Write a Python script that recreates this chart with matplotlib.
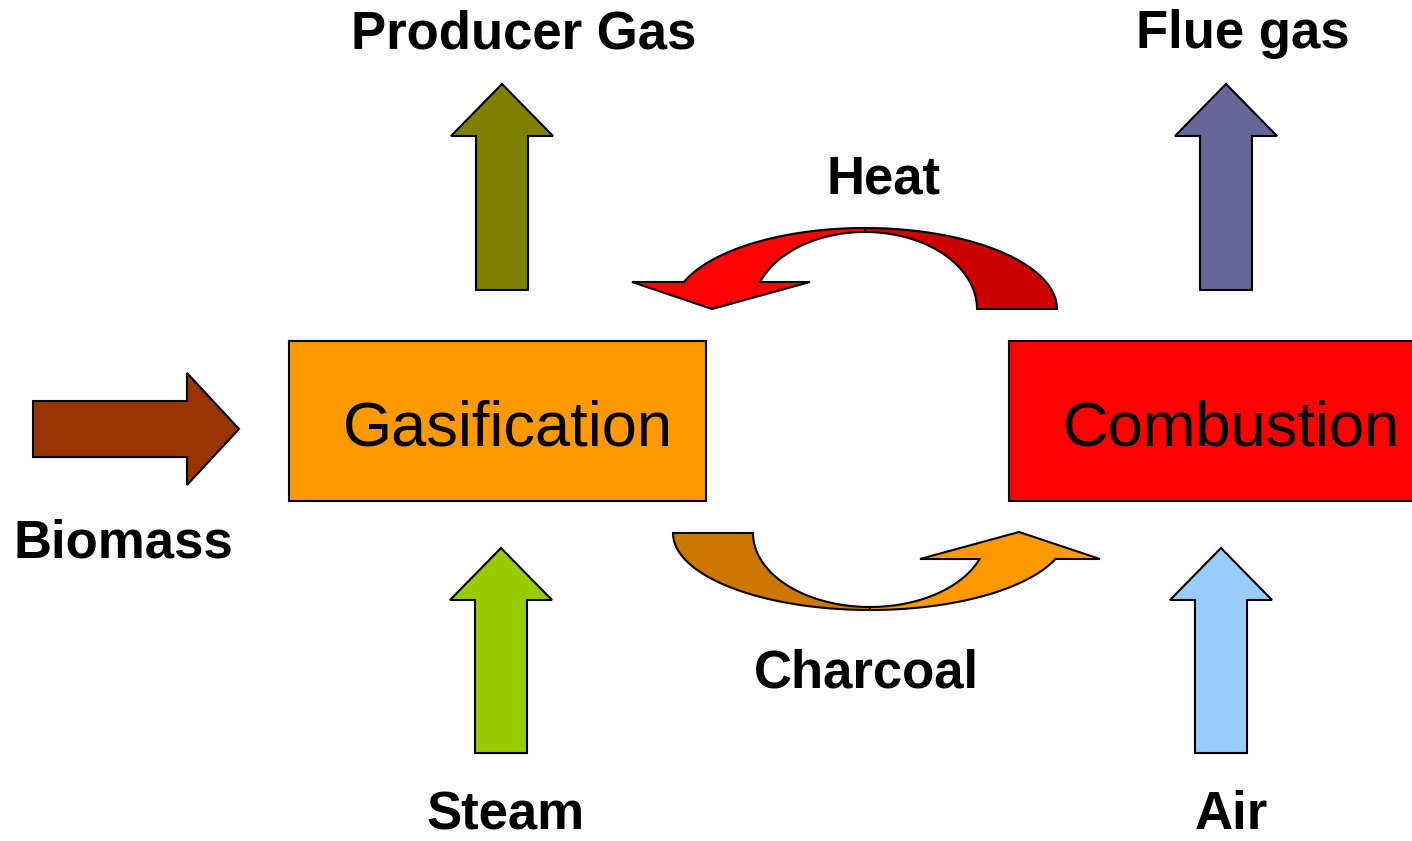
import numpy as np
import matplotlib
matplotlib.use("Agg")
import matplotlib.pyplot as plt
from matplotlib.patches import Polygon, Rectangle

# ---- diagram content ----
box_labels = ["Gasification", "Combustion"]
box_colors = ["#FF9900", "#FF0000"]

stream_labels = ["Producer Gas", "Flue gas", "Biomass", "Steam", "Air"]
stream_colors = ["#808000", "#666699", "#993300", "#99CC00", "#99CCFF"]

loop_labels = ["Heat", "Charcoal"]
loop_colors = [("#FF0000", "#CC0000"), ("#FF9900", "#CC7700")]

# ---- layout (pixel coordinates, y downwards) ----
W, H = 1412, 841
box_rects = [(289, 341, 417, 160), (1009, 341, 420, 160)]
box_text_pos = [(508, 445), (1231, 445)]

# straight arrows: (tail_x, tail_y, tip_x, tip_y, shaft_half, head_half, head_len)
straight_arrows = [
    (502, 290, 502, 84, 26, 51, 52),
    (1226, 290, 1226, 84, 26, 51, 52),
    (33, 429, 239, 429, 28, 56, 52),
    (501, 753, 501, 548, 26, 51, 52),
    (1221, 753, 1221, 548, 26, 51, 52),
]
stream_text_pos = [(524, 48), (1243, 48), (123, 557), (506, 829), (1231, 829)]
loop_text_pos = [(883, 193), (866, 688)]

lw = 1.5
bold_size = 38

fig = plt.figure(figsize=(W / 100, H / 100), dpi=100)
ax = fig.add_axes([0, 0, 1, 1])
ax.set_xlim(0, W)
ax.set_ylim(H, 0)
ax.axis("off")


def arrow_poly(x0, y0, x1, y1, sh, hh, hl):
    d = np.array([x1 - x0, y1 - y0], float)
    L = np.hypot(*d)
    u = d / L
    n = np.array([-u[1], u[0]])
    p0 = np.array([x0, y0], float)
    base = p0 + u * (L - hl)
    pts = [p0 + n * sh, base + n * sh, base + n * hh, p0 + u * L,
           base - n * hh, base - n * sh, p0 - n * sh]
    return np.array(pts)


def arc(cx, cy, a, b, t0, t1, sign, n=80):
    t = np.radians(np.linspace(t0, t1, n))
    return np.column_stack([cx + a * np.cos(t), cy + sign * b * np.sin(t)])


def curved_arrow(cx, cy, ao, bo, ai, bi, sign, t_tail, t_end_o, t_end_i, head, front, back):
    # back half (tail side)
    back_pts = np.vstack([arc(cx, cy, ao, bo, t_tail, 90, sign),
                          arc(cx, cy, ai, bi, 90, t_tail, sign)])
    ax.add_patch(Polygon(back_pts, closed=True, facecolor=back,
                         edgecolor="black", lw=lw, zorder=2))
    # front half with the head
    outer = arc(cx, cy, ao, bo, 90, t_end_o, sign)
    inner = arc(cx, cy, ai, bi, t_end_i, 90, sign)
    front_pts = np.vstack([outer, np.array(head), inner])
    ax.add_patch(Polygon(front_pts, closed=True, facecolor=front,
                         edgecolor="black", lw=lw, zorder=3))


# process boxes
for (x, y, w, h), c, lab, (tx, ty) in zip(box_rects, box_colors, box_labels, box_text_pos):
    ax.add_patch(Rectangle((x, y), w, h, facecolor=c, edgecolor="black", lw=lw, zorder=2))
    ax.text(tx, ty, lab, ha="center", va="baseline", fontsize=45.5,
            fontfamily="Liberation Sans", zorder=4)

# straight stream arrows
for geom, c, lab, (tx, ty) in zip(straight_arrows, stream_colors, stream_labels, stream_text_pos):
    ax.add_patch(Polygon(arrow_poly(*geom), closed=True, facecolor=c,
                         edgecolor="black", lw=lw, zorder=2))
    ax.text(tx, ty, lab, ha="center", va="baseline", fontsize=bold_size,
            fontweight="bold", fontfamily="Liberation Sans")

# heat loop (top, head points down-left)
curved_arrow(865, 309, 192, 81, 112, 77, -1, 0, 160.5, 159.5,
             [(632, 282), (712, 309), (810, 282)],
             loop_colors[0][0], loop_colors[0][1])
# charcoal loop (bottom, head points up-right)
curved_arrow(870, 533, 197, 77, 117, 74, 1, 180, 19.7, 20.6,
             [(1100, 559), (1019, 532), (920, 559)],
             loop_colors[1][0], loop_colors[1][1])

for lab, (tx, ty) in zip(loop_labels, loop_text_pos):
    ax.text(tx, ty, lab, ha="center", va="baseline", fontsize=bold_size,
            fontweight="bold", fontfamily="Liberation Sans")

fig.savefig("out.png", dpi=100, facecolor="white")
